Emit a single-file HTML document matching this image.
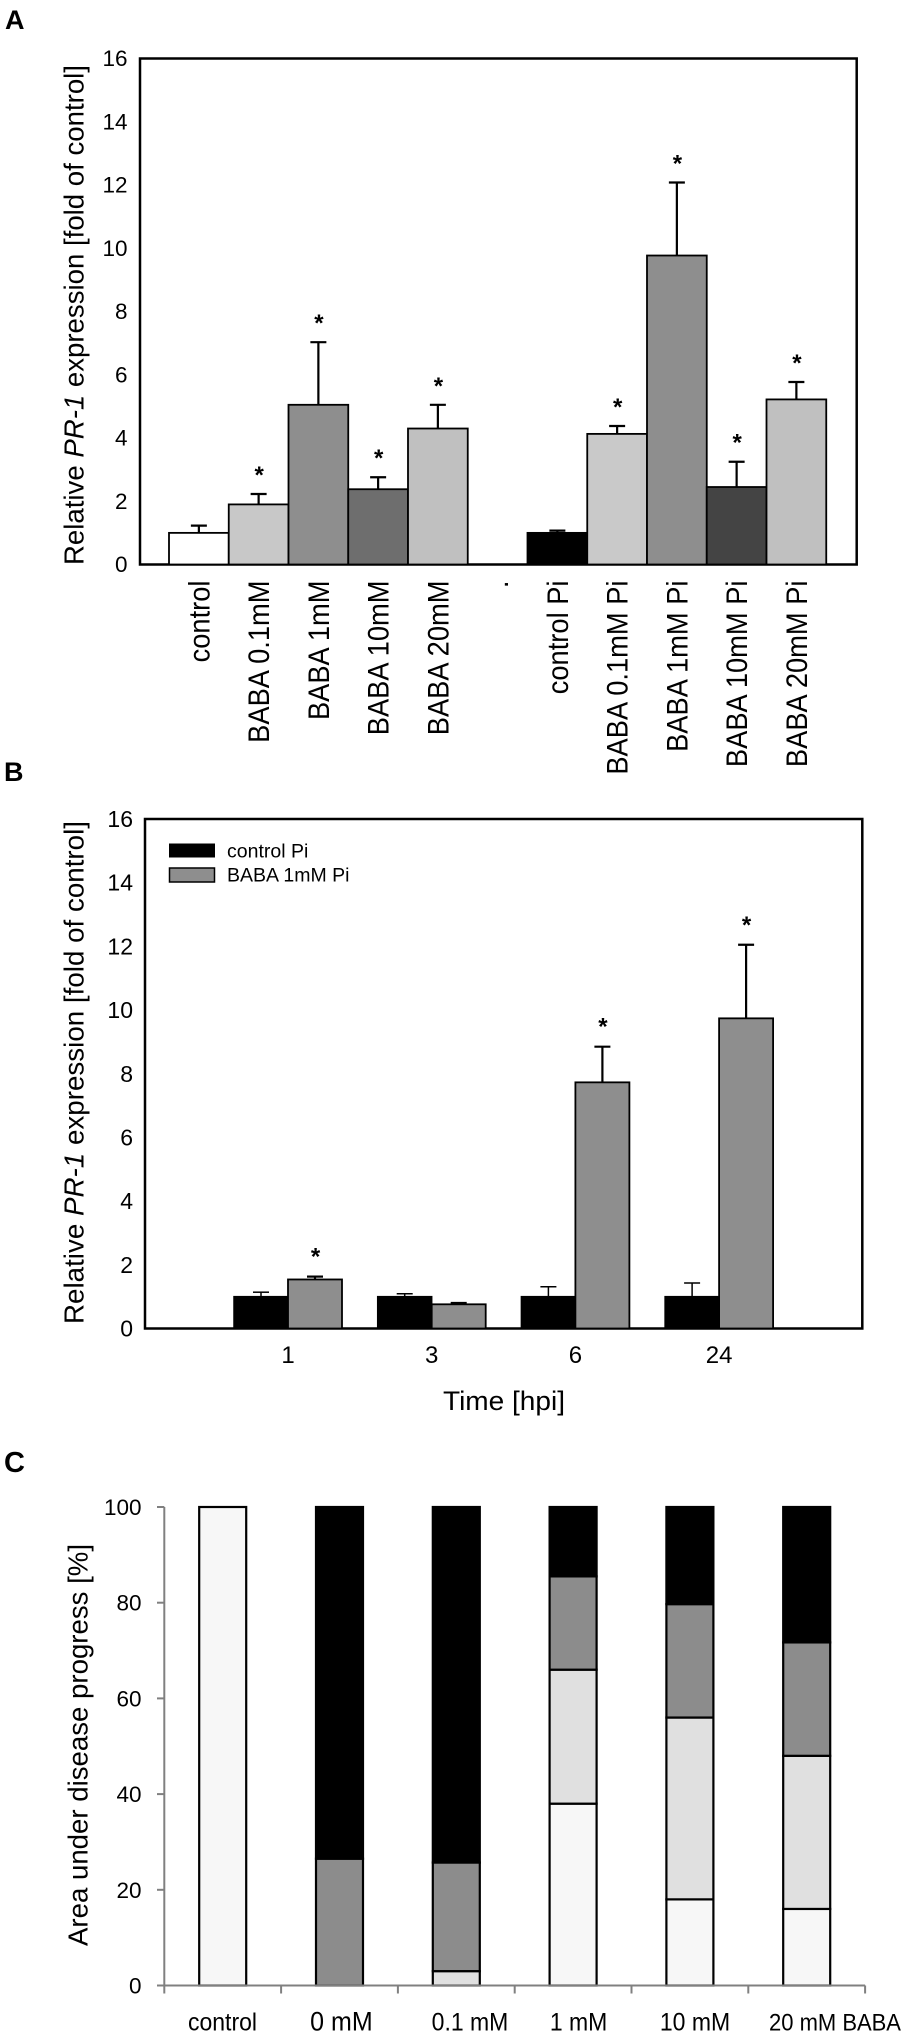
<!DOCTYPE html>
<html lang="en">
<head>
<meta charset="utf-8">
<title>PR-1 expression and disease progress</title>
<style>
html,body{margin:0;padding:0;background:#fff;}
svg{display:block;font-family:"Liberation Sans",sans-serif;}
</style>
</head>
<body>
<svg id="figure" width="908" height="2037" viewBox="0 0 908 2037" xmlns="http://www.w3.org/2000/svg">
  <rect width="908" height="2037" fill="#fff"/>
  <text x="5" y="29" font-size="27" font-weight="bold">A</text>
  <text x="4" y="781" font-size="27" font-weight="bold">B</text>
  <text x="4" y="1472" font-size="29" font-weight="bold">C</text>

  <rect x="140" y="58.5" width="716.7" height="506" fill="none" stroke="#000" stroke-width="2.5"/>
  <text transform="translate(83.5,565) rotate(-90)" font-size="27.5" textLength="500" lengthAdjust="spacingAndGlyphs">Relative <tspan font-style="italic">PR-1</tspan> expression [fold of control]</text>
  <g id="panel-a"></g>

  <rect x="145" y="819" width="717.3" height="509.5" fill="none" stroke="#000" stroke-width="2.5"/>
  <text transform="translate(83.5,1324) rotate(-90)" font-size="27.5" textLength="503" lengthAdjust="spacingAndGlyphs">Relative <tspan font-style="italic">PR-1</tspan> expression [fold of control]</text>
  <g id="panel-b"></g>
  <rect x="169" y="843.5" width="46" height="14" fill="#000"/>
  <rect x="169.5" y="868" width="45" height="14" fill="#8e8e8e" stroke="#000" stroke-width="1.5"/>
  <text x="227" y="857.5" font-size="19.5">control Pi</text>
  <text x="227" y="881.5" font-size="19.5">BABA 1mM Pi</text>
  <text x="504" y="1410" font-size="27" text-anchor="middle" textLength="122" lengthAdjust="spacingAndGlyphs">Time [hpi]</text>

  <text transform="translate(87.5,1946) rotate(-90)" font-size="27.5" textLength="402" lengthAdjust="spacingAndGlyphs">Area under disease progress [%]</text>
  <g id="panel-c"></g>
</svg>
<script>
// Panel A data
const aCategories = ["control","BABA 0.1mM","BABA 1mM","BABA 10mM","BABA 20mM",".","control Pi","BABA 0.1mM Pi","BABA 1mM Pi","BABA 10mM Pi","BABA 20mM Pi"];
const aValues = [1.0,1.9,5.05,2.38,4.3,null,1.0,4.13,9.77,2.45,5.22];
const aErrorTops = [1.23,2.23,7.03,2.76,5.05,null,1.07,4.38,12.08,3.25,5.77];
const aSignificant = [false,true,true,true,true,false,false,true,true,true,true];
const aFills = ["#ffffff","#c8c8c8","#8e8e8e","#6e6e6e","#c0c0c0",null,"#000000","#c9c9c9","#8e8e8e","#444444","#c0c0c0"];
const yTicks = ["0","2","4","6","8","10","12","14","16"];

// Panel B data
const bTimes = ["1","3","6","24"];
const bControl = [1.0,1.0,1.0,1.0];
const bControlErr = [1.14,1.09,1.31,1.43];
const bBaba = [1.54,0.76,7.73,9.74];
const bBabaErr = [1.63,0.8,8.85,12.05];
const bSignificant = [true,false,true,true];

// Panel C data
const cCategories = ["control","0 mM","0.1 mM","1 mM","10 mM","20 mM BABA"];
const cLightest = [100,0,0,38,18,16];
const cLight = [0,0,3,28,38,32];
const cGray = [0,26.5,22.7,19.5,23.7,23.7];
const cBlack = [0,73.5,74.3,14.5,20.3,28.3];
const cTicks = ["0","20","40","60","80","100"];

const NS = "http://www.w3.org/2000/svg";
function make(parent, tag, attrs, text){
  const e = document.createElementNS(NS, tag);
  for (const k in attrs) e.setAttribute(k, attrs[k]);
  if (text !== undefined) e.textContent = text;
  parent.appendChild(e);
  return e;
}
const slug = s => s.toLowerCase().replace(/[^a-z0-9]+/g,'-').replace(/^-|-$/g,'') || 'dot';

// ---- Panel A ----
const gA = document.getElementById('panel-a');
const yA = v => 564.5 - v * (506 / 16);
const xA = i => 169 + i * 59.75;
const bandA = 59.75;
yTicks.forEach(t => {
  const el = make(gA,'text',{x:127.5,y:yA(+t)+7.7,'font-size':22.5,'text-anchor':'end'},t);
  
  
});
aCategories.forEach((c,i) => {
  const cx = xA(i) + bandA/2;
  const label = make(gA,'text',{transform:`translate(${cx+10.5},580.5) rotate(-90) scale(1,1.08)`,'font-size':27.3,'text-anchor':'end'},c);
  
  
  if (aValues[i] === null) return;
  const stem = make(gA,'line',{x1:cx,x2:cx,y1:yA(aValues[i]),y2:yA(aErrorTops[i]),stroke:'#000','stroke-width':2.2});
  
  
  const cap = make(gA,'line',{x1:cx-8,x2:cx+8,y1:yA(aErrorTops[i]),y2:yA(aErrorTops[i]),stroke:'#000','stroke-width':2.2});
  
  
  const bar = make(gA,'rect',{x:xA(i),y:yA(aValues[i]),width:bandA,height:yA(0)-yA(aValues[i]),fill:aFills[i],stroke:'#000','stroke-width':1.8});
  
  
  if (aSignificant[i]) {
    const star = make(gA,'text',{x:cx+0.5,y:yA(aErrorTops[i])-11,'font-size':24,'font-weight':'bold','text-anchor':'middle'},'*');
    
    
  }
});

// ---- Panel B ----
const gB = document.getElementById('panel-b');
const yB = v => 1328.5 - v * (509.5 / 16);
const xB = i => 288 + i * 143.7;
const barB = 54;
yTicks.forEach(t => {
  const el = make(gB,'text',{x:133,y:yB(+t)+8,'font-size':23,'text-anchor':'end'},t);
  
  
});
bTimes.forEach((t,i) => {
  const cx = xB(i);
  const label = make(gB,'text',{x:cx,y:1363,'font-size':24,'text-anchor':'middle'},t);
  
  

  const c1 = cx - barB/2, c2 = cx + barB/2;
  const stem1 = make(gB,'line',{x1:c1,x2:c1,y1:yB(bControl[i]),y2:yB(bControlErr[i]),stroke:'#000','stroke-width':1.5});
  
  
  const cap1 = make(gB,'line',{x1:c1-8,x2:c1+8,y1:yB(bControlErr[i]),y2:yB(bControlErr[i]),stroke:'#000','stroke-width':1.5});
  
  
  const stem2 = make(gB,'line',{x1:c2,x2:c2,y1:yB(bBaba[i]),y2:yB(bBabaErr[i]),stroke:'#000','stroke-width':2.2});
  
  
  const cap2 = make(gB,'line',{x1:c2-8,x2:c2+8,y1:yB(bBabaErr[i]),y2:yB(bBabaErr[i]),stroke:'#000','stroke-width':2.2});
  
  

  const b1 = make(gB,'rect',{x:cx-barB,y:yB(bControl[i]),width:barB,height:yB(0)-yB(bControl[i]),fill:'#000',stroke:'#000','stroke-width':1.5});
  
  
  const b2 = make(gB,'rect',{x:cx,y:yB(bBaba[i]),width:barB,height:yB(0)-yB(bBaba[i]),fill:'#8e8e8e',stroke:'#000','stroke-width':1.8});
  
  

  if (bSignificant[i]) {
    const star = make(gB,'text',{x:c2+0.5,y:yB(bBabaErr[i])-12,'font-size':24,'font-weight':'bold','text-anchor':'middle'},'*');
    
    
  }
});

// ---- Panel C ----
const gC = document.getElementById('panel-c');
const yC = v => 1985.5 - v * 4.785;
const xC = i => 164.3 + i * 116.8;
const bandC = 116.8;
const widthC = 47;
const axisY = make(gC,'line',{x1:164.3,x2:164.3,y1:yC(100),y2:yC(0),stroke:'#808080','stroke-width':2});


cTicks.forEach(t => {
  const tick = make(gC,'line',{x1:157,x2:164.3,y1:yC(+t),y2:yC(+t),stroke:'#808080','stroke-width':2});
  
  
  const el = make(gC,'text',{x:141.5,y:yC(+t)+8,'font-size':22.5,'text-anchor':'end'},t);
  
  
});
const cSeries = [cLightest,cLight,cGray,cBlack];
const cSeriesFills = ['#f7f7f7','#e0e0e0','#8c8c8c','#000000'];
const cSeriesNames = ['lightest','light','gray','black'];
cCategories.forEach((c,i) => {
  const x = xC(i) + bandC/2 - widthC/2;
  let base = 0;
  cSeries.forEach((s,k) => {
    const v = s[i];
    if (!v) return;
    const seg = make(gC,'rect',{x:x,y:yC(base+v),width:widthC,height:yC(base)-yC(base+v),fill:cSeriesFills[k],stroke:'#000','stroke-width':2.2});
    
    
    base += v;
  });
});
const axisX = make(gC,'line',{x1:164.3,x2:xC(6),y1:yC(0),y2:yC(0),stroke:'#808080','stroke-width':2});


for (let i = 0; i <= cCategories.length; i++) {
  const tick = make(gC,'line',{x1:xC(i),x2:xC(i),y1:yC(0),y2:yC(0)+8,stroke:'#808080','stroke-width':2});
  
  
}
cCategories.forEach((c,i) => {
  const last = i === cCategories.length - 1;
  const big = i === 1;
  const cx = last ? 835 : (i === 0 ? 222.5 : (i === 1 ? 341.4 : (i === 2 ? 470 : (i === 3 ? 578.6 : 695))));
  const label = make(gC,'text',{transform:`translate(${cx},2030.7) scale(1,1.08)`,'font-size':big ? 25 : (last ? 22 : 23),'text-anchor':'middle'},c);
  
  
});
</script>
</body>
</html>
